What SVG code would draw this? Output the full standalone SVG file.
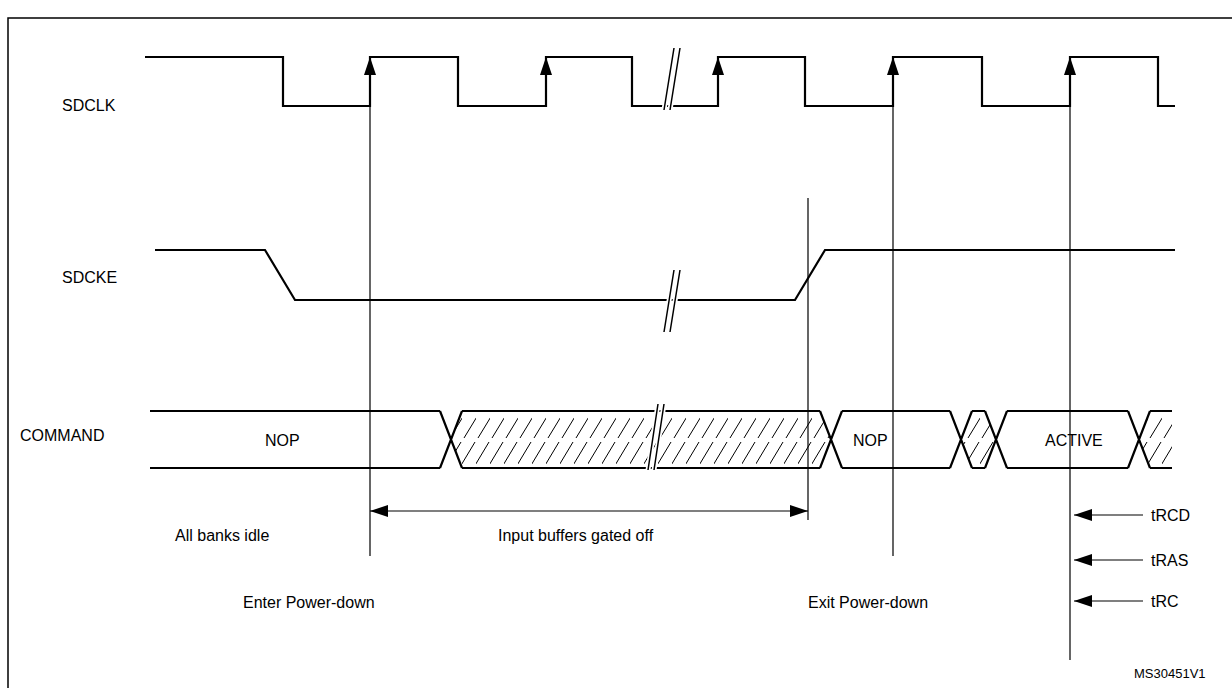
<svg xmlns="http://www.w3.org/2000/svg" width="1232" height="688" viewBox="0 0 1232 688">
<defs>
<style>
.w{fill:none;stroke:#000;stroke-width:2.2}
.t{fill:none;stroke:#000;stroke-width:1.2}
text{font-family:"Liberation Sans",Arial,sans-serif;font-size:16px;fill:#000}
</style>
<pattern id="h" width="14" height="58" patternUnits="userSpaceOnUse" y="411">
<path d="M2 27 L16 4 M-2 56 L13 31" stroke="#000" stroke-width="1"/>
</pattern>
<marker id="au" viewBox="0 0 18 12" refX="18" refY="6" markerWidth="18" markerHeight="12" markerUnits="userSpaceOnUse" orient="auto"><path d="M0 0 L18 6 L0 12Z"/></marker>
</defs>
<rect x="0" y="0" width="1232" height="688" fill="#fff"/>
<rect x="8" y="18" width="1240" height="690" fill="none" stroke="#000" stroke-width="1.5"/>
<g id="labels">
<text x="62" y="111">SDCLK</text>
<text x="62" y="283">SDCKE</text>
<text x="20" y="441">COMMAND</text>
</g>
<g id="sdclk">
<path class="w" d="M145 57H283V106H370V57H458V106H546V57H632V106H718V57H805V106H893V57H982V106H1070V57H1158V106H1175"/>
<path d="M664 110L674 48M670 110L680 48" stroke="#fff" stroke-width="5"/>
<path d="M664 110L674 48M670 110L680 48" stroke="#000" stroke-width="1.5"/>
</g>
<g id="sdcke">
<path class="w" d="M155 250H265L295 300H795L825 250H1175"/>
<path d="M664 332L674 270M670 332L680 270" stroke="#fff" stroke-width="5"/>
<path d="M664 332L674 270M670 332L680 270" stroke="#000" stroke-width="1.5"/>
</g>
<g id="command">
<path d="M451 440L462 411H820L831 440L820 468H462Z M961 440L972 411H985L996 440L985 468H972Z M1139 440L1150 411H1172V468H1150Z" fill="url(#h)"/>
<path class="w" d="M150 411H440 M150 468H440 M462 411H820 M462 468H820 M842 411H950 M842 468H950 M972 411H985 M972 468H985 M1007 411H1128 M1007 468H1128 M1150 411H1172 M1150 468H1172
M440 411L462 468M440 468L462 411 M820 411L842 468M820 468L842 411 M950 411L972 468M950 468L972 411 M985 411L1007 468M985 468L1007 411 M1128 411L1150 468M1128 468L1150 411"/>
<path d="M648 470L658 404M654 470L664 404" stroke="#fff" stroke-width="5"/>
<path d="M648 470L658 404M654 470L664 404" stroke="#000" stroke-width="1.5"/>
<text x="265" y="446">NOP</text>
<text x="853" y="446">NOP</text>
<text x="1045" y="446">ACTIVE</text>
</g>
<g id="connectors">
<path class="t" d="M370 75V556 M546 75V106 M718 75V106 M893 75V556 M1070 75V660 M808 198V520"/>
<line class="t" x1="370" y1="80" x2="370" y2="57" marker-end="url(#au)"/>
<line class="t" x1="546" y1="80" x2="546" y2="57" marker-end="url(#au)"/>
<line class="t" x1="718" y1="80" x2="718" y2="57" marker-end="url(#au)"/>
<line class="t" x1="893" y1="80" x2="893" y2="57" marker-end="url(#au)"/>
<line class="t" x1="1070" y1="80" x2="1070" y2="57" marker-end="url(#au)"/>
<line class="t" x1="590" y1="511" x2="370" y2="511" marker-end="url(#au)"/>
<line class="t" x1="590" y1="511" x2="808" y2="511" marker-end="url(#au)"/>
<line class="t" x1="1143" y1="515" x2="1074" y2="515" marker-end="url(#au)"/>
<line class="t" x1="1143" y1="560" x2="1074" y2="560" marker-end="url(#au)"/>
<line class="t" x1="1143" y1="601" x2="1074" y2="601" marker-end="url(#au)"/>
</g>
<g id="texts">
<text x="175" y="541">All banks idle</text>
<text x="498" y="541">Input  buffers gated off</text>
<text x="243" y="608">Enter Power-down</text>
<text x="808" y="608">Exit Power-down</text>
<text x="1151" y="521">tRCD</text>
<text x="1151" y="566">tRAS</text>
<text x="1151" y="607">tRC</text>
<text x="1134" y="678" style="font-size:13px">MS30451V1</text>
</g>
</svg>
